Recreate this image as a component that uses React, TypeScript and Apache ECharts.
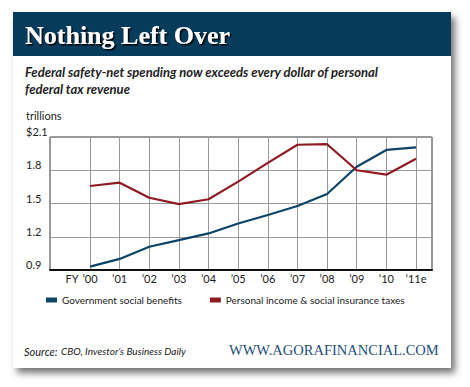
import React, { useEffect, useRef } from "react";
import * as echarts from "echarts";

const years = ["\u201900", "\u201901", "\u201902", "\u201903", "\u201904", "\u201905", "\u201906", "\u201907", "\u201908", "\u201909", "\u201910", "\u201911e"];
const benefits = [0.93, 1.0, 1.11, 1.17, 1.23, 1.32, 1.396, 1.477, 1.586, 1.832, 1.983, 2.007];
const taxes = [1.658, 1.688, 1.552, 1.495, 1.538, 1.697, 1.867, 2.03, 2.035, 1.8, 1.76, 1.904];
const yTicks = [0.9, 1.2, 1.5, 1.8, 2.1];

const BLUE = "#0c4467";
const RED = "#8e1b22";
const SANS = "Lato, 'Open Sans', sans-serif";

export default function App() {
  const ref = useRef<HTMLDivElement>(null);
  useEffect(() => {
    if (!ref.current) return;
    const chart = echarts.init(ref.current, undefined, { renderer: "svg" });
    const idx = years.map((_, i) => i);
    chart.setOption({
      animation: false,
      backgroundColor: "transparent",
      grid: {
        left: 50,
        top: 137,
        width: 382,
        height: 133,
        show: true,
        borderColor: "#333",
        borderWidth: 1,
        backgroundColor: "transparent",
      },
      xAxis: {
        type: "value",
        min: -1.35,
        max: 11.54,
        axisLine: { show: true, onZero: false, lineStyle: { color: "#111", width: 2 } },
        axisTick: { show: false, customValues: idx },
        axisLabel: {
          customValues: idx,
          formatter: (v: number) => years[Math.round(v)] ?? "",
          margin: 3,
          color: "#222",
          fontFamily: SANS,
          fontSize: 11,
        },
        splitLine: { show: true, lineStyle: { color: "#9a9a9a", width: 1 } },
      },
      yAxis: {
        type: "value",
        min: yTicks[0],
        max: yTicks[yTicks.length - 1],
        interval: 0.3,
        axisLine: { show: false },
        axisTick: { show: false },
        axisLabel: {
          align: "left",
          verticalAlign: "bottom",
          margin: 24,
          color: "#222",
          fontFamily: SANS,
          fontSize: 11,
          formatter: (v: number) => (Math.abs(v - 2.1) < 1e-6 ? "$2.1" : v.toFixed(1)),
        },
        splitLine: { show: true, lineStyle: { color: "#9a9a9a", width: 1 } },
      },
      legend: {
        left: 46,
        top: 295,
        padding: 0,
        itemWidth: 11,
        itemHeight: 5,
        itemGap: 28,
        icon: "rect",
        textStyle: { color: "#222", fontFamily: SANS, fontSize: 10 },
        data: ["Government social benefits", "Personal income & social insurance taxes"],
      },
      series: [
        {
          name: "Government social benefits",
          type: "line",
          data: benefits.map((v, i) => [i, v]),
          symbol: "none",
          color: BLUE,
          lineStyle: { color: BLUE, width: 2.2 },
        },
        {
          name: "Personal income & social insurance taxes",
          type: "line",
          data: taxes.map((v, i) => [i, v]),
          symbol: "none",
          color: RED,
          lineStyle: { color: RED, width: 2.2 },
        },
      ],
      graphic: [
        { type: "rect", shape: { x: 13, y: 12, width: 438, height: 44 }, style: { fill: "#073b5c" }, z: -1 },
        {
          type: "text",
          x: 25,
          y: 35,
          style: {
            text: "Nothing Left Over",
            fill: "#fff",
            font: "bold 26px 'Liberation Serif', serif",
            textVerticalAlign: "middle",
            textShadowColor: "#000",
            textShadowOffsetX: 1.5,
            textShadowOffsetY: 1.5,
            textShadowBlur: 1,
          },
        },
        {
          type: "text",
          x: 25,
          y: 72,
          style: {
            text: "Federal safety-net spending now exceeds every dollar of personal",
            fill: "#222",
            font: `italic bold 13px ${SANS}`,
            textVerticalAlign: "middle",
          },
        },
        {
          type: "text",
          x: 25,
          y: 89,
          style: {
            text: "federal tax revenue",
            fill: "#222",
            font: `italic bold 13px ${SANS}`,
            textVerticalAlign: "middle",
          },
        },
        {
          type: "text",
          x: 26,
          y: 115,
          style: { text: "trillions", fill: "#222", font: `11px ${SANS}`, textVerticalAlign: "middle" },
        },
        {
          type: "text",
          x: 72,
          y: 278,
          style: { text: "FY", fill: "#222", font: `11px ${SANS}`, textAlign: "center", textVerticalAlign: "middle" },
        },
        {
          type: "text",
          x: 24,
          y: 351,
          style: { text: "Source:", fill: "#222", font: `italic 11px ${SANS}`, textVerticalAlign: "middle" },
        },
        {
          type: "text",
          x: 61,
          y: 351,
          style: {
            text: "CBO, Investor\u2019s Business Daily",
            fill: "#222",
            font: `italic 10px ${SANS}`,
            textVerticalAlign: "middle",
          },
        },
        {
          type: "text",
          x: 229,
          y: 350,
          style: {
            text: "WWW.AGORAFINANCIAL.COM",
            fill: "#1d4f7a",
            font: "14.5px 'Liberation Serif', serif",
            textVerticalAlign: "middle",
          },
        },
      ],
    });
    return () => chart.dispose();
  }, []);
  return (
    <div style={{ position: "fixed", left: 0, top: 0, width: 470, height: 387, background: "#fff" }}>
      <div
        style={{
          position: "absolute",
          left: 13,
          top: 12,
          width: 438,
          height: 356,
          background: "#fff",
          boxShadow: "4px 5px 7px rgba(0,0,0,0.55)",
        }}
      />
      <div ref={ref} style={{ position: "absolute", left: 0, top: 0, width: 470, height: 387 }} />
    </div>
  );
}
